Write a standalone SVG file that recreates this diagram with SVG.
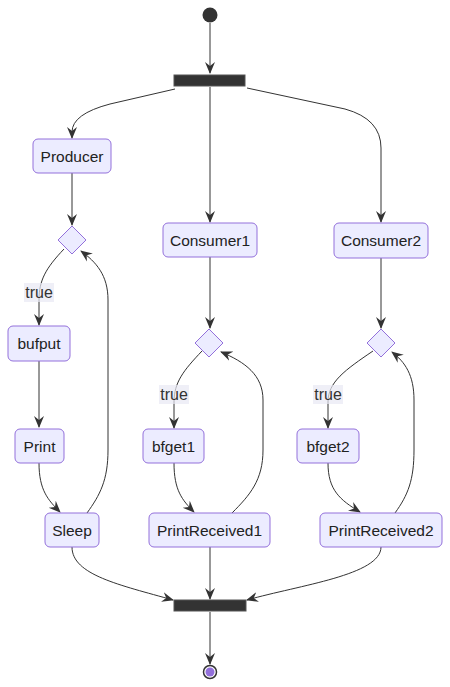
<svg xmlns="http://www.w3.org/2000/svg" width="450" height="687" viewBox="0 0 450 687">
<style>
.node rect.box{fill:#ECECFF;stroke:#9370DB;stroke-width:1}
.node polygon{fill:#ECECFF;stroke:#9370DB;stroke-width:1}
.node text, .lbl text{font-family:"Liberation Sans",Arial,sans-serif;font-size:15.5px;fill:#222;text-anchor:middle;dominant-baseline:central}
.lbl text{fill:#333;font-size:16px}
.bar{fill:#333;stroke:#555;stroke-width:1}
.edge{fill:none;stroke:#333;stroke-width:1;marker-end:url(#arr)}
.lbl rect{fill:#e8e8f4;opacity:0.7}
</style>
<defs>
<marker id="arr" viewBox="0 0 12 12" refX="11" refY="6" markerWidth="12" markerHeight="12" markerUnits="userSpaceOnUse" orient="auto">
<path d="M0,1 L12,6 L0,11 L4,6 z" fill="#333"/>
</marker>
</defs>
<g id="edges">
<path class="edge" d="M210,23 L210,73"/>
<path class="edge" d="M175,89 L110,104 Q72,114 72,132 L72,138"/>
<path class="edge" d="M210,87 L210,222"/>
<path class="edge" d="M247,88 L345,109 Q381,119 381,148 L381,222"/>
<path class="edge" d="M72,173 L72,225"/>
<path class="edge" d="M64,249 C46,268 39,280 39,300 L39,325"/>
<path class="edge" d="M39,361 L39,427"/>
<path class="edge" d="M39,463 C39,490 48,500 60,512"/>
<path class="edge" d="M87,513 C100,495 108,480 108,450 L108,300 C108,275 96,262 81,251"/>
<path class="edge" d="M72,547 C72,575 120,585 173,600"/>
<path class="edge" d="M210,257 L210,328"/>
<path class="edge" d="M202,351 C184,370 174,382 174,402 L174,428"/>
<path class="edge" d="M174,463 C174,490 182,500 194,512"/>
<path class="edge" d="M232,513 C250,495 263,480 263,450 L263,400 C263,375 245,362 221,352"/>
<path class="edge" d="M210,547 L210,599"/>
<path class="edge" d="M381,547 C381,575 300,585 247,600"/>
<path class="edge" d="M381,258 L381,328"/>
<path class="edge" d="M373,351 C345,370 328,382 328,402 L328,428"/>
<path class="edge" d="M328,463 C328,490 340,500 360,512"/>
<path class="edge" d="M395,513 C408,495 414,480 414,450 L414,400 C414,375 405,362 392,352"/>
<path class="edge" d="M210,612 L210,664"/>
</g>
<g class="lbl">
<rect x="24" y="283" width="30" height="19"/><text x="39" y="292.5">true</text>
<rect x="159" y="385" width="30" height="19"/><text x="174" y="394.5">true</text>
<rect x="313" y="385" width="30" height="19"/><text x="328" y="394.5">true</text>
</g>
<g id="start" class="node"><circle cx="210" cy="15" r="7.5" fill="#333"/></g>
<g id="fork" class="node"><rect class="bar" x="174" y="75" width="71" height="11"/></g>
<g id="Producer" class="node"><rect class="box" x="33" y="139" width="78" height="34" rx="5"/><text x="72" y="156">Producer</text></g>
<g id="choice1" class="node"><polygon points="72,226 86,240 72,254 58,240"/></g>
<g id="bufput" class="node"><rect class="box" x="8" y="326" width="62" height="35" rx="5"/><text x="39" y="343.5">bufput</text></g>
<g id="Print" class="node"><rect class="box" x="15" y="429" width="49" height="34" rx="5"/><text x="39.5" y="446">Print</text></g>
<g id="Sleep" class="node"><rect class="box" x="45" y="513" width="54" height="34" rx="5"/><text x="72" y="530">Sleep</text></g>
<g id="Consumer1" class="node"><rect class="box" x="163" y="223" width="94" height="34" rx="5"/><text x="210" y="240">Consumer1</text></g>
<g id="Consumer2" class="node"><rect class="box" x="334" y="223" width="94" height="35" rx="5"/><text x="381" y="240.5">Consumer2</text></g>
<g id="choice2" class="node"><polygon points="209,329 223,343 209,357 195,343"/></g>
<g id="choice3" class="node"><polygon points="381,329 395,343 381,357 367,343"/></g>
<g id="bfget1" class="node"><rect class="box" x="143" y="429" width="61" height="34" rx="5"/><text x="173.5" y="446">bfget1</text></g>
<g id="bfget2" class="node"><rect class="box" x="297" y="429" width="62" height="34" rx="5"/><text x="328" y="446">bfget2</text></g>
<g id="PrintReceived1" class="node"><rect class="box" x="149" y="513" width="121" height="34" rx="5"/><text x="209.5" y="530">PrintReceived1</text></g>
<g id="PrintReceived2" class="node"><rect class="box" x="320" y="513" width="122" height="34" rx="5"/><text x="381" y="530">PrintReceived2</text></g>
<g id="join" class="node"><rect class="bar" x="174" y="600" width="72" height="11"/></g>
<g id="end" class="node"><circle cx="210" cy="672" r="6.5" fill="#fff" stroke="#333" stroke-width="1.5"/><circle cx="210" cy="672" r="4.5" fill="#9370DB"/></g>
</svg>
